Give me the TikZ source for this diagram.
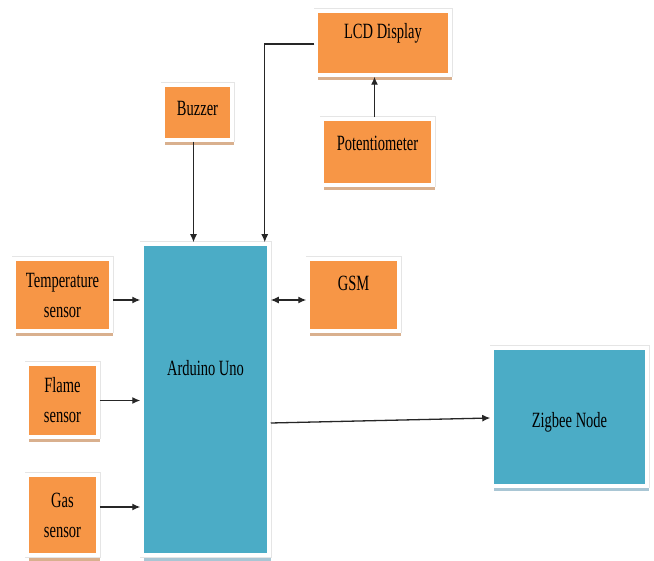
\documentclass[tikz,border=0pt]{standalone}
\usepackage{fontspec}
\setmainfont{Liberation Serif}
\usetikzlibrary{arrows.meta,shadows}
\definecolor{boxorange}{HTML}{F79646}
\definecolor{boxblue}{HTML}{4BACC6}
\definecolor{shtan}{HTML}{D9B08E}
\definecolor{shblue}{HTML}{A9C6D4}
\newcommand{\tl}[1]{\scalebox{1}[1.5]{#1}}
\tikzset{
  box/.style={draw=white, line width=3.5pt, inner sep=0pt, align=center,
    font=\fontsize{14.5}{30}\selectfont},
  obox/.style={
    drop shadow={shadow xshift=2pt, shadow yshift=-5.5pt, fill=shtan, opacity=1},
    preaction={draw=black!10, line width=5pt},
    box, fill=boxorange},
  bbox/.style={
    drop shadow={shadow xshift=2pt, shadow yshift=-5.5pt, fill=shblue, opacity=1},
    preaction={draw=black!10, line width=5pt},
    box, fill=boxblue},
  lbl/.style={font=\fontsize{14.5}{30}\selectfont, inner sep=0pt},
  arr/.style={line width=1.3pt, draw=black!85, -{Latex[length=8pt,width=7pt]}},
  darr/.style={line width=1.3pt, draw=black!85, {Latex[length=8pt,width=7pt]}-{Latex[length=8pt,width=7pt]}}
}
\begin{document}
\begin{tikzpicture}[x=1pt,y=-1pt]
\useasboundingbox[fill=white] (0,0) rectangle (654,561);
% boxes
\node[obox, minimum width=97pt, minimum height=72pt] (temp) at (62.5,295) {\tl{Temperature}\\\tl{sensor}};
\node[obox, minimum width=71pt, minimum height=73pt] (flame) at (62.5,400.5) {\tl{Flame}\\\tl{sensor}};
\node[obox, minimum width=71pt, minimum height=80pt] (gas) at (62.5,515) {\tl{Gas}\\\tl{sensor}};
\node[bbox, minimum width=127pt, minimum height=311pt,
  label={[lbl, yshift=31pt]center:\tl{Arduino Uno}}] (ard) at (205.5,399.5) {};
\node[obox, minimum width=69pt, minimum height=55pt,
  label={[lbl, yshift=4pt]center:\tl{Buzzer}}] (buz) at (197.5,112.5) {};
\node[obox, minimum width=134pt, minimum height=64pt,
  label={[lbl, yshift=10pt]center:\tl{LCD Display}}] (lcd) at (383,43) {};
\node[obox, minimum width=111pt, minimum height=66pt,
  label={[lbl, yshift=9pt]center:\tl{Potentiometer}}] (pot) at (377.5,152) {};
\node[obox, minimum width=91pt, minimum height=72pt,
  label={[lbl, yshift=12pt]center:\tl{GSM}}] (gsm) at (353.5,295) {};
\node[bbox, minimum width=155pt, minimum height=138pt,
  label={[lbl, yshift=-5pt]center:\tl{Zigbee Node}}] (zig) at (569.5,417) {};
% connectors
\draw[arr] ([yshift=-5pt]temp.east) -- ([yshift=-5pt]temp.east -| ard.west);
\draw[arr] (flame.east) -- (flame.east -| ard.west);
\draw[arr] ([yshift=8pt]gas.east) -- ([yshift=8pt]gas.east -| ard.west);
\draw[arr] ([xshift=-4pt]buz.south) -- ([xshift=-4pt]buz.south |- ard.north);
\draw[arr] ([yshift=-1pt]lcd.west) -| ([xshift=-6pt]ard.north east);
\draw[arr] ([xshift=-3pt]pot.north) -- ([xshift=-3pt]pot.north |- lcd.south);
\draw[darr] ([yshift=-5pt]gsm.west) -- ([yshift=-5pt]gsm.west -| ard.east);
\draw[arr] ([yshift=-23.5pt]ard.east) -- ([yshift=-1pt]zig.west);
\end{tikzpicture}
\end{document}
